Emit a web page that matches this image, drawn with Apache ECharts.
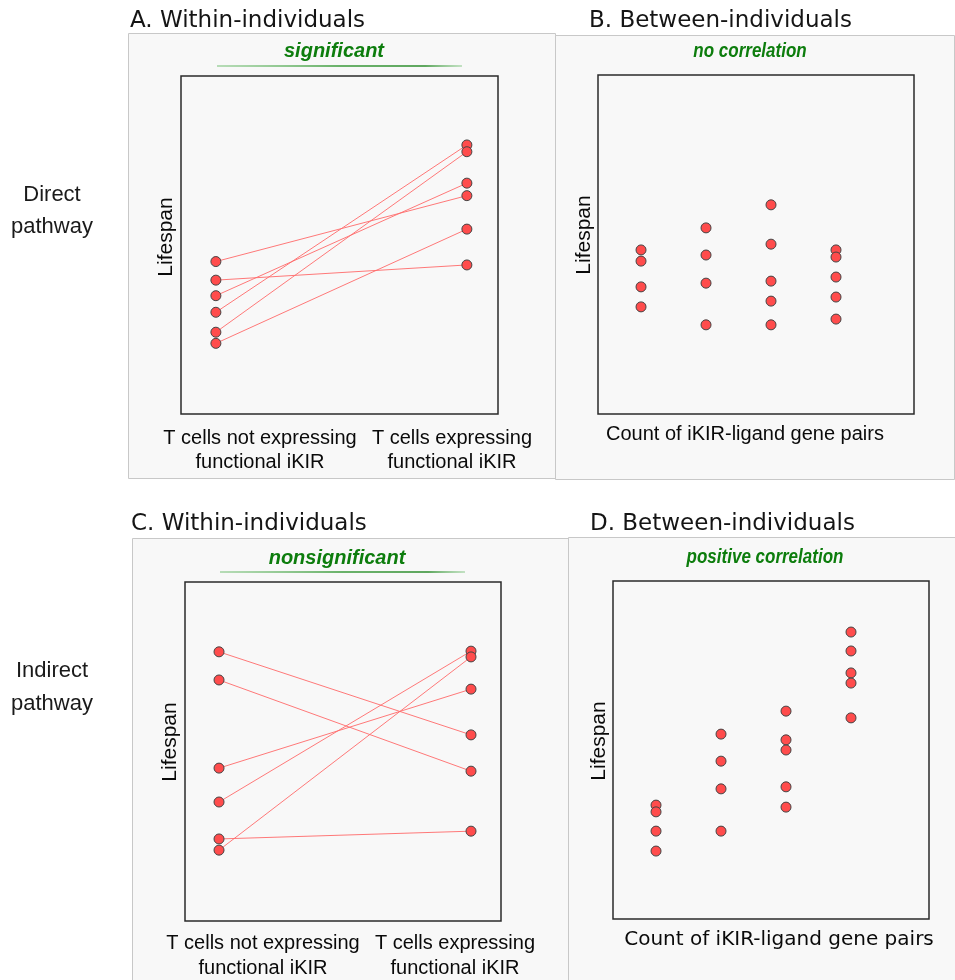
<!DOCTYPE html>
<html>
<head>
<meta charset="utf-8">
<script src="https://cdn.jsdelivr.net/npm/echarts@6/dist/echarts.min.js"></script>
<style>html,body{margin:0;padding:0;background:#fff}#c{width:955px;height:980px}</style>
</head>
<body>
<div id="c"></div>
<script>
// ---- Data (lifespan in arbitrary units, 0 = bottom of box, 100 = top) ----
// Panel A: within-individuals, direct pathway (paired by index)
const aNotExpressing = [45.1, 39.6, 35.0, 30.1, 24.2, 20.9];
const aExpressing    = [64.6, 44.1, 68.3, 79.6, 77.6, 54.7];
// Panel C: within-individuals, indirect pathway (paired by index)
const cNotExpressing = [79.4, 71.1, 45.1, 35.1, 24.2, 20.9];
const cExpressing    = [54.9, 44.2, 68.4, 79.6, 26.5, 77.9];
// Panel B: between-individuals, direct pathway, by count of iKIR-ligand gene pairs
const bCount1 = [48.4, 45.1, 37.5, 31.6];
const bCount2 = [54.9, 46.9, 38.6, 26.3];
const bCount3 = [61.7, 50.1, 39.2, 33.3, 26.3];
const bCount4 = [48.4, 46.3, 40.4, 34.5, 28.0];
// Panel D: between-individuals, indirect pathway
const dCount1 = [33.7, 31.7, 26.0, 20.1];
const dCount2 = [54.7, 46.7, 38.5, 26.0];
const dCount3 = [61.5, 53.0, 50.0, 39.1, 33.1];
const dCount4 = [84.9, 79.3, 72.8, 69.8, 59.5];
// Text
const panelTitles = ['A. Within-individuals', 'B. Between-individuals', 'C. Within-individuals', 'D. Between-individuals'];
const panelNotes = ['significant', 'no correlation', 'nonsignificant', 'positive correlation'];
const rowLabels = ['Direct\npathway', 'Indirect\npathway'];
const withinCategories = ['T cells not expressing\nfunctional iKIR', 'T cells expressing\nfunctional iKIR'];
const betweenAxisName = 'Count of iKIR-ligand gene pairs';
const yName = 'Lifespan';

// ---- Styles ----
const dotStyle = {color: '#ff4c4c', borderColor: '#444', borderWidth: 1, opacity: 1};
const pairLine = {color: '#ff6a6a', width: 1, opacity: 0.9};
const green = '#0d7d0d';
const titleFont = 'DejaVu Sans';
const sansFont = 'Liberation Sans, Arial, sans-serif';

const grids = [
  {left: 181, top: 76, width: 317, height: 338},
  {left: 598, top: 75, width: 316, height: 339},
  {left: 185, top: 582, width: 316, height: 339},
  {left: 613, top: 581, width: 316, height: 338}
].map(g => Object.assign(g, {show: true, borderColor: '#2a2a2a', borderWidth: 1.5, backgroundColor: 'transparent'}));

const xRanges = [[-0.139, 1.124], [0.338, 5.2], [-0.135, 1.119], [0.338, 5.2]];
const xAxes = xRanges.map((r, i) => ({gridIndex: i, type: 'value', min: r[0], max: r[1], show: false}));
const yAxes = [0, 1, 2, 3].map(i => ({gridIndex: i, type: 'value', min: 0, max: 100, show: false}));

const series = [];
function within(idx, left, right) {
  left.forEach((v, i) => {
    series.push({type: 'line', xAxisIndex: idx, yAxisIndex: idx, data: [[0, v], [1, right[i]]],
      symbol: 'none', lineStyle: pairLine, z: 2, silent: true, animation: false});
  });
  series.push({type: 'scatter', xAxisIndex: idx, yAxisIndex: idx, symbolSize: 10, itemStyle: dotStyle, z: 3,
    data: left.map(v => [0, v]).concat(right.map(v => [1, v])), animation: false});
}
function between(idx, groups) {
  series.push({type: 'scatter', xAxisIndex: idx, yAxisIndex: idx, symbolSize: 10, itemStyle: dotStyle, z: 3,
    data: groups.flatMap((arr, k) => arr.map(v => [k + 1, v])), animation: false});
}
within(0, aNotExpressing, aExpressing);
between(1, [bCount1, bCount2, bCount3, bCount4]);
within(2, cNotExpressing, cExpressing);
between(3, [dCount1, dCount2, dCount3, dCount4]);

function txt(text, x, y, opts) {
  return Object.assign({type: 'text', x: x, y: y, z: 50, silent: true,
    style: Object.assign({text: text, fill: '#0a0a0a', fontFamily: sansFont, fontSize: 20,
      align: 'center', verticalAlign: 'middle', textAlign: 'center', textVerticalAlign: 'middle'}, opts.style || {})},
    opts.el || {});
}
function panelRect(x, y, w, h) {
  return {type: 'rect', z: -10, silent: true, shape: {x: x + 0.5, y: y + 0.5, width: w, height: h},
    style: {fill: '#f8f8f8', stroke: '#c8c8c8', lineWidth: 1}};
}
function underline(x1, x2, y) {
  return {type: 'rect', z: 40, silent: true, shape: {x: x1, y: y - 0.75, width: x2 - x1, height: 1.5},
    style: {fill: {type: 'linear', x: 0, y: 0, x2: 1, y2: 0, colorStops: [
      {offset: 0, color: 'rgba(90,180,90,0.55)'}, {offset: 0.5, color: '#3a9a3a'},
      {offset: 0.85, color: '#2c8c2c'}, {offset: 1, color: 'rgba(90,180,90,0.45)'}]}}};
}
const titleStyle = {fontFamily: titleFont, fontSize: 23, fill: '#151515', align: 'left', textAlign: 'left'};
const noteStyle = {fill: green, fontWeight: 'bold', fontStyle: 'italic', fontSize: 20};
const elements = [
  panelRect(128, 33, 427, 445),
  panelRect(555, 35, 399, 444),
  panelRect(132, 538, 436, 450),
  panelRect(568, 537, 387, 450),
  txt(panelTitles[0], 130, 21, {style: titleStyle}),
  txt(panelTitles[1], 589, 21, {style: titleStyle}),
  txt(panelTitles[2], 131, 524, {style: titleStyle}),
  txt(panelTitles[3], 590, 524, {style: titleStyle}),
  txt(panelNotes[0], 334, 51, {style: noteStyle}),
  txt(panelNotes[1], 750, 51, {style: noteStyle, el: {scaleX: 0.85, originX: 0, originY: 0}}),
  txt(panelNotes[2], 337, 558, {style: noteStyle}),
  txt(panelNotes[3], 765, 557, {style: noteStyle, el: {scaleX: 0.85, originX: 0, originY: 0}}),
  underline(217, 462, 66),
  underline(220, 465, 572),
  txt(rowLabels[0], 52, 211, {style: {fontSize: 22, lineHeight: 32, fill: '#1a1a1a'}}),
  txt(rowLabels[1], 52, 687, {style: {fontSize: 22, lineHeight: 33, fill: '#1a1a1a'}}),
  txt(yName, 166, 237, {style: {fontSize: 21}, el: {rotation: Math.PI / 2}}),
  txt(yName, 584, 235, {style: {fontSize: 21}, el: {rotation: Math.PI / 2}}),
  txt(yName, 170, 742, {style: {fontSize: 21}, el: {rotation: Math.PI / 2}}),
  txt(yName, 599, 741, {style: {fontSize: 21}, el: {rotation: Math.PI / 2}}),
  txt(withinCategories[0], 260, 450, {style: {lineHeight: 24}}),
  txt(withinCategories[1], 452, 450, {style: {lineHeight: 24}}),
  txt(withinCategories[0], 263, 956, {style: {lineHeight: 25}}),
  txt(withinCategories[1], 455, 956, {style: {lineHeight: 25}}),
  txt(betweenAxisName, 745, 434, {}),
  txt(betweenAxisName, 779, 940, {style: {fontFamily: titleFont, fontSize: 20}})
];

const chart = echarts.init(document.getElementById('c'), null, {renderer: 'canvas'});
chart.setOption({
  animation: false,
  backgroundColor: '#ffffff',
  grid: grids,
  xAxis: xAxes,
  yAxis: yAxes,
  series: series,
  graphic: {elements: elements}
});
</script>
</body>
</html>
